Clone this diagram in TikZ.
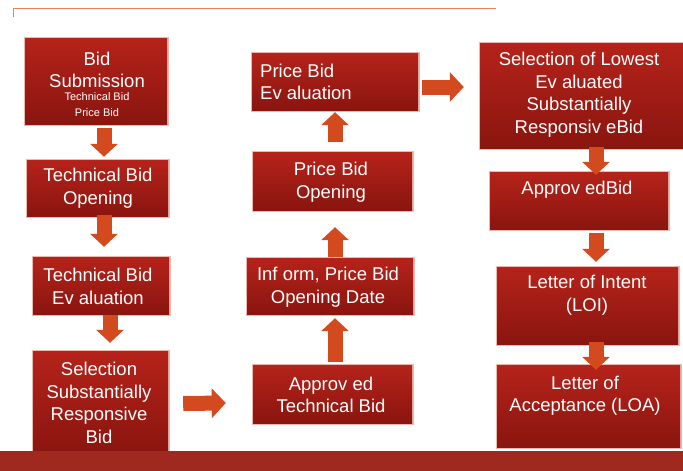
\documentclass[tikz,border=0pt]{standalone}
\usepackage{fontspec}
\setmainfont{Liberation Sans}
\usetikzlibrary{arrows.meta,calc}
\definecolor{boxtop}{HTML}{B5231A}
\definecolor{boxbot}{HTML}{8A150F}
\definecolor{arrowc}{HTML}{D24A1E}
\definecolor{linec}{HTML}{E8825C}
\definecolor{barc}{HTML}{A0291F}
\definecolor{glowc}{HTML}{EBB7AE}
\tikzset{
  box/.style={rectangle, inner sep=0pt, top color=boxtop, bottom color=boxbot,
    preaction={draw=glowc, line width=3pt}},
  txt/.style={text=white, font=\fontsize{18.5}{22.5}\selectfont, align=center, inner sep=0pt},
  small/.style={text=white, font=\fontsize{11}{16}\selectfont, align=center, inner sep=0pt},
  blockv/.style={draw=arrowc, line width=15pt, -{Triangle[length=13pt,width=27pt]}},
  blockh/.style={draw=arrowc, line width=15pt, -{Triangle[length=14pt,width=29pt]}}
}
\begin{document}
\begin{tikzpicture}[x=1pt,y=-1pt]
\useasboundingbox (0,0) rectangle (683,471);
% top rule
\draw[linec, line width=1pt] (13,17) -- (13,8) -- (496,8);
% column 1
\node[box, minimum width=142pt, minimum height=86pt] (b1) at (96,81) {};
\node[box, minimum width=141pt, minimum height=56pt] (b2) at (97.5,188) {};
\node[box, minimum width=136pt, minimum height=57pt] (b3) at (101,285.5) {};
\node[box, minimum width=135pt, minimum height=101pt] (b4) at (100.5,401.5) {};
\node[txt] at (97,70) {Bid\\Submission};
\node[small] at (97,105) {Technical Bid\\Price Bid};
\node[txt] at (98,188) {Technical Bid\\Opening};
\node[txt] at (98,286.5) {Technical Bid\\Ev aluation};
\node[txt] at (99,403) {Selection\\Substantially\\Responsive\\Bid};
% column 2
\node[box, minimum width=166pt, minimum height=57pt] (c1) at (335,81.5) {};
\node[box, minimum width=159pt, minimum height=58pt] (c2) at (332.5,181) {};
\node[box, minimum width=166pt, minimum height=56pt] (c3) at (330,286) {};
\node[box, minimum width=159pt, minimum height=58pt] (c4) at (332.5,394) {};
\node[txt, align=left, anchor=west] at (260,82) {Price Bid\\Ev aluation};
\node[txt] at (331,182) {Price Bid\\Opening};
\node[txt] at (328,287) {Inf orm, Price Bid\\Opening Date};
\node[txt] at (331,395) {Approv ed\\Technical Bid};
% column 3
\node[box, minimum width=203pt, minimum height=105pt] (d1) at (581.5,95.5) {};
\node[box, minimum width=178pt, minimum height=57pt] (d2) at (579,200.5) {};
\node[box, minimum width=181pt, minimum height=77pt] (d3) at (587.5,305.5) {};
\node[box, minimum width=183pt, minimum height=82pt] (d4) at (588.5,406) {};
\node[txt] at (579,94.5) {Selection of Lowest\\Ev aluated\\Substantially\\Responsiv eBid};
\node[txt] at (577,190) {Approv edBid};
\node[txt] at (587,295) {Letter of Intent\\(LOI)};
\node[txt] at (585,395.5) {Letter of\\Acceptance (LOA)};
% connectors
\draw[blockv] ($(b1.south)+(8,4)$) -- ($(b2.north)+(6.5,-3)$);
\draw[blockv] ($(b2.south)+(6.5,-1)$) -- ($(b3.north)+(3,-10)$);
\draw[blockv] ($(b3.south)+(9,1)$) -- ($(b4.north)+(9.5,-8)$);
\draw[blockh] ($(b4.east)+(15,2)$) -- ($(c4.west)+(-27,9)$);
\draw[blockv] ($(c4.north)+(2.5,-3)$) -- ($(c3.south)+(5,4)$);
\draw[blockv] ($(c3.north)+(5,-1)$) -- ($(c2.south)+(2.5,17)$);
\draw[blockv] ($(c2.north)+(2.5,-10)$) -- ($(c1.south)+(0,2)$);
\draw[blockh] ($(c1.east)+(4,5.5)$) -- ($(d1.west)+(-16,-8.5)$);
\draw[blockv] ($(d1.south)+(14.5,-1)$) -- ($(d2.north)+(17,3)$);
\draw[blockv] ($(d2.south)+(17,4)$) -- ($(d3.north)+(8.5,-5)$);
\draw[blockv] ($(d3.south)+(8.5,-2)$) -- ($(d4.north)+(7.5,5)$);
% bottom band
\fill[barc] (0,451) rectangle (683,471);
\end{tikzpicture}
\end{document}
